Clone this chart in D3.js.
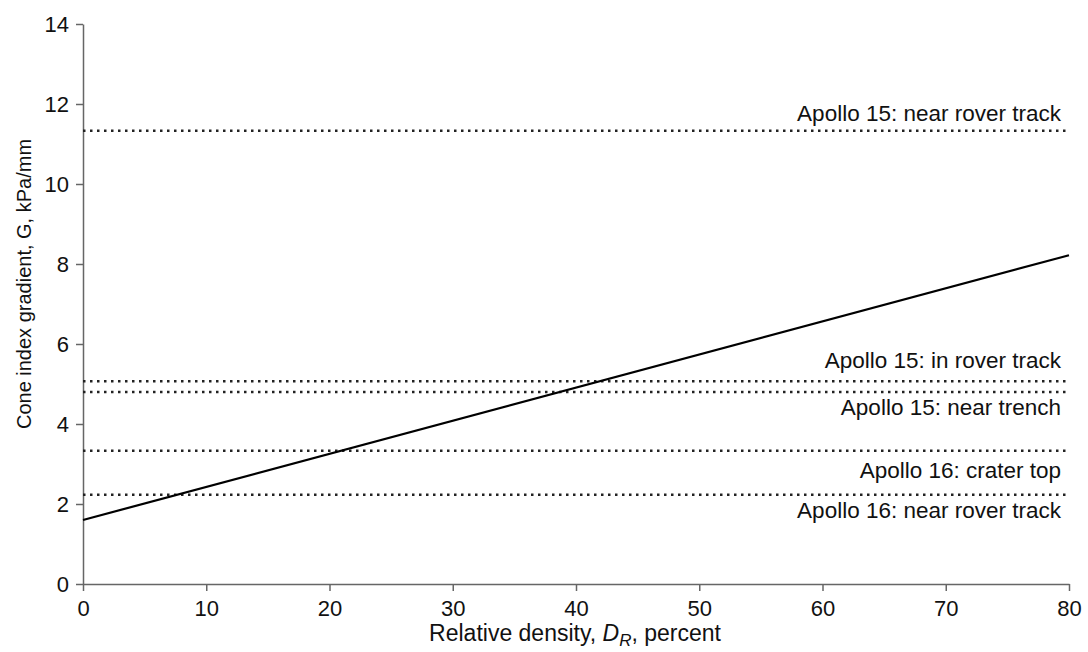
<!DOCTYPE html>
<html>
<head>
<meta charset="utf-8">
<script src="https://cdn.jsdelivr.net/npm/d3@7"></script>
<style>
  body { margin: 0; background: #fff; }
  text { font-family: "Liberation Sans", Arial, sans-serif; }
</style>
</head>
<body>
<svg id="chart"></svg>
<script>
  // data
  const xTicks = [0, 10, 20, 30, 40, 50, 60, 70, 80];
  const yTicks = [0, 2, 4, 6, 8, 10, 12, 14];
  const lineX = [0, 80];
  const lineG = [1.6, 8.22];
  const siteNames = ["Apollo 15: near rover track", "Apollo 15: in rover track", "Apollo 15: near trench",
                     "Apollo 16: crater top", "Apollo 16: near rover track"];
  const siteG = [11.33, 5.07, 4.8, 3.33, 2.23];

  width = 1088;
  height = 652;
  const m = {left: 83, right: 1069, top: 24, bottom: 584};
  const labelDy = [-10, -13, 23, 27, 23];

  var svg = d3.select("#chart").attr("width", width).attr("height", height);

  const x = d3.scaleLinear().domain([0, 80]).range([m.left, m.right]);
  const y = d3.scaleLinear().domain([0, 14]).range([m.bottom, m.top]);

  // axes
  var xAxis = svg.append("g")
    .attr("transform", `translate(0,${m.bottom})`)
    .call(d3.axisBottom(x).tickValues(xTicks).tickSize(7).tickPadding(9).tickSizeOuter(0));
  var yAxis = svg.append("g")
    .attr("transform", `translate(${m.left},0)`)
    .call(d3.axisLeft(y).tickValues(yTicks).tickSize(7).tickPadding(7).tickSizeOuter(0));

  [xAxis, yAxis].forEach(a => {
    a.select(".domain").attr("stroke", "#666").attr("stroke-width", 1.5);
    a.selectAll(".tick line").attr("stroke", "#666").attr("stroke-width", 1.5);
    a.selectAll(".tick text").attr("fill", "#111").style("font-size", "22px");
  });

  // dotted reference lines
  svg.append("g")
    .selectAll("line")
    .data(siteG)
    .join("line")
    .attr("x1", x(0))
    .attr("x2", x(80))
    .attr("y1", d => y(d))
    .attr("y2", d => y(d))
    .attr("stroke", "#222")
    .attr("stroke-width", 2.5)
    .attr("stroke-dasharray", "2.5,4.5");

  svg.append("g")
    .selectAll("text")
    .data(siteNames)
    .join("text")
    .attr("x", x(80) - 8)
    .attr("y", (d, i) => y(siteG[i]) + labelDy[i])
    .attr("text-anchor", "end")
    .attr("fill", "#111")
    .style("font-size", "22.5px")
    .text(d => d);

  // regression line
  const pts = lineX.map((d, i) => [d, lineG[i]]);
  svg.append("path")
    .datum(pts)
    .attr("fill", "none")
    .attr("stroke", "#000")
    .attr("stroke-width", 2.2)
    .attr("d", d3.line().x(d => x(d[0])).y(d => y(d[1])));

  // axis titles
  var xt = svg.append("text")
    .attr("x", 575)
    .attr("y", 641)
    .attr("text-anchor", "middle")
    .attr("fill", "#111")
    .style("font-size", "23px");
  xt.append("tspan").text("Relative density, ");
  xt.append("tspan").style("font-style", "italic").text("D");
  xt.append("tspan").style("font-style", "italic").style("font-size", "17px").attr("dy", 5).text("R");
  xt.append("tspan").attr("dy", -5).text(", percent");

  var yt = svg.append("text")
    .attr("transform", "translate(31,284) rotate(-90)")
    .attr("text-anchor", "middle")
    .attr("fill", "#111")
    .style("font-size", "20px")
    .text("Cone index gradient, G, kPa/mm");
</script>
</body>
</html>
